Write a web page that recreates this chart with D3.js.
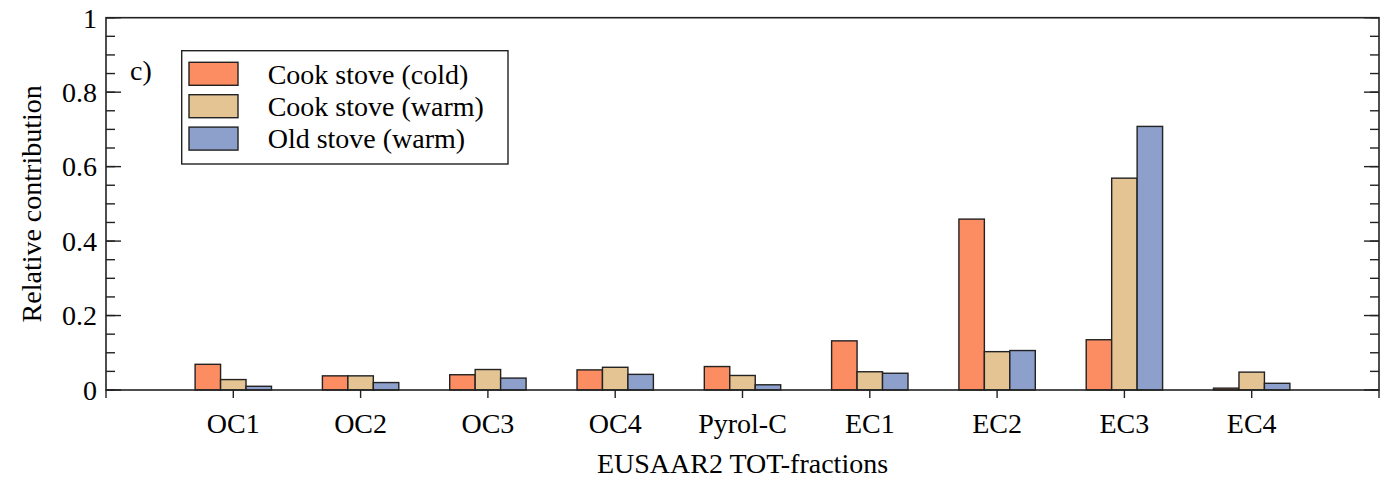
<!DOCTYPE html>
<html><head><meta charset="utf-8">
<script src="https://cdn.jsdelivr.net/npm/d3@7"></script>
<style>body{margin:0;background:#fff}svg{display:block}text{font-family:"Liberation Serif","Times New Roman",serif;fill:#000}</style>
</head><body>
<svg id="c" width="1381" height="479"></svg>
<script>
const categories = ["OC1","OC2","OC3","OC4","Pyrol-C","EC1","EC2","EC3","EC4"];
const cookCold = [0.069,0.038,0.041,0.054,0.063,0.132,0.459,0.135,0.005];
const cookWarm = [0.028,0.038,0.055,0.061,0.039,0.049,0.103,0.569,0.048];
const oldWarm  = [0.010,0.020,0.032,0.042,0.014,0.045,0.106,0.708,0.018];
const seriesNames = ["Cook stove (cold)","Cook stove (warm)","Old stove (warm)"];
const seriesColors = ["#fc8d62","#e5c494","#8da0cb"];
const yMajor = [0,0.2,0.4,0.6,0.8,1];
const yMajorLabels = ["0","0.2","0.4","0.6","0.8","1"];

const svg = d3.select("#c");
const L=106, R=1379, T=17.7, B=390;
const x = d3.scaleLinear().domain([0,categories.length+1]).range([L,R]);
const y = d3.scaleLinear().domain([0,1]).range([B,T]);
const series = [cookCold,cookWarm,oldWarm];
const bw = 0.2;

// bars
series.forEach((vals,si)=>{
  svg.append("g").selectAll("rect").data(vals).join("rect")
    .attr("x",(d,i)=>x(i+1+(si-1.5)*bw))
    .attr("width",x(bw)-x(0))
    .attr("y",d=>y(d))
    .attr("height",d=>y(0)-y(d))
    .attr("fill",seriesColors[si])
    .attr("stroke","#222").attr("stroke-width",1.4);
});

// frame
const fs = 28;
const minor = d3.range(0,1.0001,0.05);
// left axis
const gl = svg.append("g");
gl.selectAll("line.mn").data(minor).join("line").attr("x1",L).attr("x2",L+9).attr("y1",d=>y(d)).attr("y2",d=>y(d)).attr("stroke","#222").attr("stroke-width",1.4);
gl.selectAll("line.mj").data(yMajor).join("line").attr("x1",L).attr("x2",L+15).attr("y1",d=>y(d)).attr("y2",d=>y(d)).attr("stroke","#222").attr("stroke-width",1.4);
gl.selectAll("text").data(yMajor).join("text").attr("x",L-9).attr("y",d=>y(d)).attr("dy","0.35em").attr("text-anchor","end").attr("font-size",fs).text((d,i)=>yMajorLabels[i]);
// right axis ticks
const gr = svg.append("g");
gr.selectAll("line.mn").data(minor).join("line").attr("x1",R).attr("x2",R-9).attr("y1",d=>y(d)).attr("y2",d=>y(d)).attr("stroke","#222").attr("stroke-width",1.4);
gr.selectAll("line.mj").data(yMajor).join("line").attr("x1",R).attr("x2",R-15).attr("y1",d=>y(d)).attr("y2",d=>y(d)).attr("stroke","#222").attr("stroke-width",1.4);

// bottom axis
const xt = d3.range(0,categories.length+2);
svg.append("g").selectAll("line").data(xt).join("line").attr("x1",d=>x(d)).attr("x2",d=>x(d)).attr("y1",B).attr("y2",B+8).attr("stroke","#222").attr("stroke-width",1.4);
svg.append("g").selectAll("text").data(categories).join("text").attr("x",(d,i)=>x(i+1)).attr("y",433).attr("text-anchor","middle").attr("font-size",fs).text(d=>d);

svg.append("rect").attr("x",L).attr("y",T).attr("width",R-L).attr("height",B-T).attr("fill","none").attr("stroke","#222").attr("stroke-width",1.6);

// titles
svg.append("text").attr("x",x((categories.length+1)/2)).attr("y",473).attr("text-anchor","middle").attr("font-size",fs).text("EUSAAR2 TOT-fractions");
svg.append("text").attr("transform",`translate(41,${y(0.5)}) rotate(-90)`).attr("text-anchor","middle").attr("font-size",fs).text("Relative contribution");
svg.append("text").attr("x",130).attr("y",80).attr("font-size",fs).text("c)");

// legend
const lg = svg.append("g");
lg.append("rect").attr("x",181.7).attr("y",50.7).attr("width",326.3).attr("height",113.3).attr("fill","#fff").attr("stroke","#222").attr("stroke-width",1.4);
seriesNames.forEach((n,i)=>{
  lg.append("rect").attr("x",189).attr("y",62.3+i*32.4).attr("width",49).attr("height",23).attr("fill",seriesColors[i]).attr("stroke","#222").attr("stroke-width",1.4);
  lg.append("text").attr("x",267.7).attr("y",83.5+i*32.4).attr("font-size",fs).text(n);
});
</script>
</body></html>
